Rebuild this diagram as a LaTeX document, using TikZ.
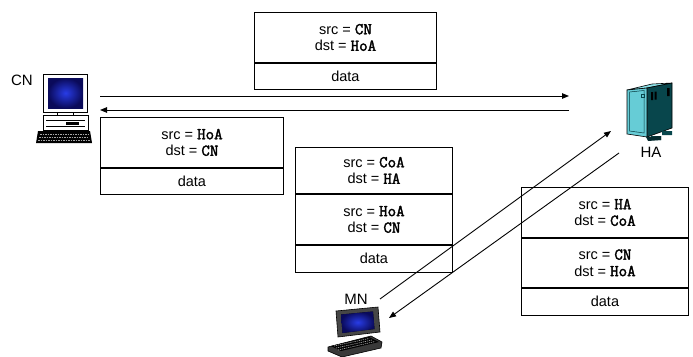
\documentclass[tikz,border=0pt]{standalone}
\usepackage{fontspec}
\setmainfont{Liberation Sans}
\newfontfamily\codefont[AutoFakeBold=2.2]{Latin Modern Mono}
\usetikzlibrary{arrows.meta,positioning}
\newcommand\cf[1]{{\codefont\bfseries\fontsize{16.5}{16}\selectfont #1}}
\definecolor{scrdark}{RGB}{10,10,90}
\definecolor{scrlite}{RGB}{40,60,230}
\definecolor{srvfront}{RGB}{102,204,214}
\definecolor{srvtop}{RGB}{140,225,232}
\definecolor{srvside}{RGB}{8,70,76}
\begin{document}
\begin{tikzpicture}[x=1pt,y=-1pt,
  pkt/.style={draw, line width=0.9pt, inner sep=0pt, align=center,
    font=\fontsize{14.5}{16.5}\selectfont},
  hdr/.style={pkt, minimum height=50pt},
  datarow/.style={pkt, minimum height=26pt},
  msg/.style={-{Triangle[length=7pt,width=5.5pt]}, line width=0.9pt},
  lbl/.style={font=\fontsize{15}{16}\selectfont, inner sep=0pt},
  screen/.style={inner color=scrlite, outer color=scrdark},
  outline/.style={draw=black, line width=0.6pt}]
\useasboundingbox (0,0) rectangle (693,356);

% ---- packets ----
% CN -> HoA
\node[hdr, minimum width=182pt, anchor=north west] (p1h) at (254,12)
  {src = \cf{CN}\\dst = \cf{HoA}};
\node[datarow, minimum width=182pt, anchor=north] (p1d) at (p1h.south) {data};

% HoA -> CN
\node[hdr, minimum width=183pt, anchor=north west] (p2h) at (100,117)
  {src = \cf{HoA}\\dst = \cf{CN}};
\node[datarow, minimum width=183pt, anchor=north] (p2d) at (p2h.south) {data};

% tunnelled MN -> HA
\node[hdr, minimum width=157pt, minimum height=46pt, anchor=north west] (p3o) at (295,147)
  {src = \cf{CoA}\\dst = \cf{HA}};
\node[hdr, minimum width=157pt, anchor=north] (p3i) at (p3o.south)
  {src = \cf{HoA}\\dst = \cf{CN}};
\node[datarow, minimum width=157pt, minimum height=27pt, anchor=north] (p3d) at (p3i.south) {data};

% tunnelled HA -> MN
\node[hdr, minimum width=167pt, anchor=north west] (p4o) at (521,187)
  {src = \cf{HA}\\dst = \cf{CoA}};
\node[hdr, minimum width=167pt, minimum height=49pt, anchor=north] (p4i) at (p4o.south)
  {src = \cf{CN}\\dst = \cf{HoA}};
\node[datarow, minimum width=167pt, minimum height=27pt, anchor=north] (p4d) at (p4i.south) {data};

% ---- CN: desktop computer ----
\node[inner sep=0pt, minimum width=56pt, minimum height=71pt, anchor=north west] (cn) at (36,73) {};
\node[lbl] (cnlbl) at (22,80) {CN};
\filldraw[fill=white, outline] (43,74) rectangle (87,112);
\fill[screen] (48,78) rectangle (83,108);
\filldraw[fill=white, outline] (57,112) rectangle (73,115);
\filldraw[fill=white, outline] (43,115) rectangle (88,130);
\draw[line width=0.5pt] (46,120) -- (85,120) (46,126) -- (85,126);
\fill[black] (66,121.5) rectangle (79,124.5);
\fill[black] (38,131) -- (90,131) -- (92,143) -- (36,143) -- cycle;
\draw[gray!70, line width=0.8pt, dash pattern=on 1.5pt off 1pt] (40,134) -- (88,134) (39,137) -- (89,137) (38,140) -- (90,140);

% ---- HA: server tower ----
\node[inner sep=0pt, minimum width=47pt, minimum height=57pt, anchor=north west] (ha) at (627,83) {};
\node[lbl] (halbl) at (651,152) {HA};
\filldraw[fill=srvtop, outline] (627,90) -- (647,88) -- (672,83) -- (652,84) -- cycle;
\filldraw[fill=srvside, outline] (647,88) -- (672,83) -- (672,128) -- (647,137) -- cycle;
\filldraw[fill=srvfront, outline] (627,90) -- (647,88) -- (647,137) -- (627,134) -- cycle;
\draw[srvside!80!black, line width=0.5pt] (629.5,92) -- (644,90.5) -- (644,133) -- (629.5,131) -- cycle;
\draw[srvside, line width=0.5pt] (641.5,94) rectangle (644,97);
\fill[black] (651,92) rectangle (653,100) (654.5,91.5) rectangle (656.5,99.5) (667,88) rectangle (669.5,96);
\fill[srvside] (651,136) rectangle (661,140) (662,131) rectangle (672,135);
\fill[srvside!60!black] (646,137) -- (661,136) -- (661,140) -- (648,141) -- cycle;

% ---- MN: laptop ----
\node[inner sep=0pt, minimum width=55pt, minimum height=48pt, anchor=north west] (mn) at (327,308) {};
\node[lbl] (mnlbl) at (356,299) {MN};
\filldraw[fill=gray!55!black, outline] (336,311) -- (378,307) -- (380,332) -- (338,337) -- cycle;
\fill[screen] (341,314.5) -- (373,311.5) -- (374.5,329) -- (342.5,333) -- cycle;
\filldraw[fill=gray!45!black, outline] (328,347) -- (371,336) -- (382,342) -- (381,348) -- (342,357) -- (328,351) -- cycle;
\fill[black] (331,346) -- (369,337) -- (379,342) -- (341,351) -- cycle;
\draw[gray!75, line width=0.7pt, dash pattern=on 1.2pt off 0.9pt]
  (334,346) -- (369,338.5) (336,348) -- (372,340) (338,350) -- (375,341.5);

% ---- connector end points ----
\coordinate (cnTop) at (100,96);
\coordinate (haTop) at (569,96);
\coordinate (haBot) at (569,110);
\coordinate (cnBot) at (100,110);
\coordinate (mnOut) at (380,299);
\coordinate (haIn) at (611,131);
\coordinate (haOut) at (619,153);
\coordinate (mnIn) at (389,318);

\draw[msg] (cnTop) -- (haTop);
\draw[msg] (haBot) -- (cnBot);
\draw[msg] (mnOut) -- (haIn);
\draw[msg] (haOut) -- (mnIn);
\end{tikzpicture}
\end{document}
